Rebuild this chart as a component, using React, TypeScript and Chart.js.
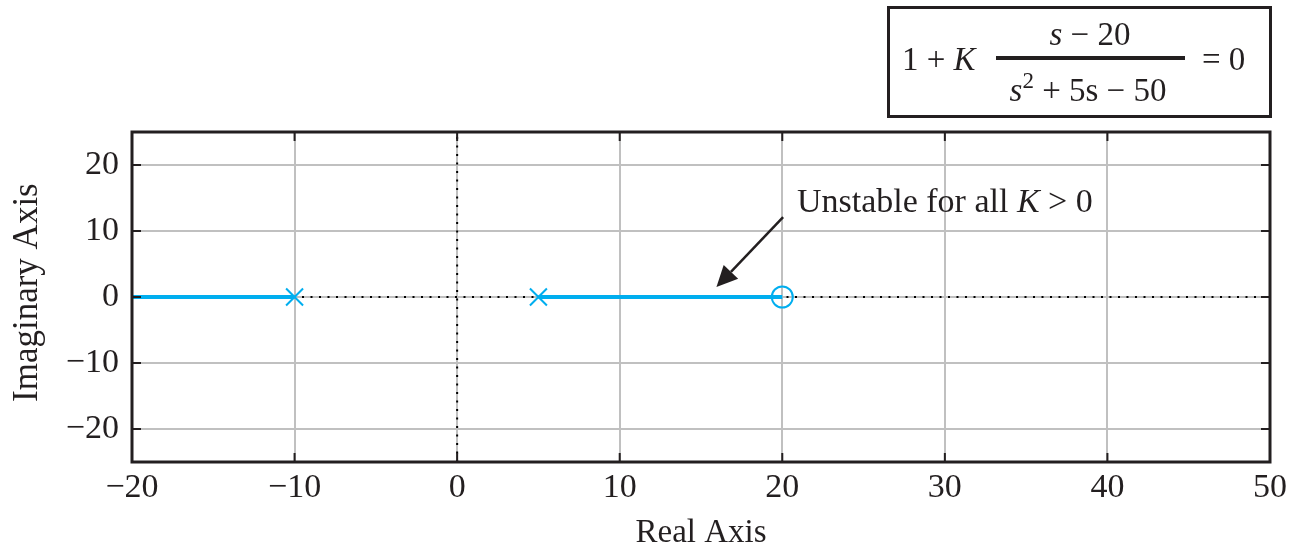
import React, { useEffect, useRef } from 'react';
import { Chart, registerables } from 'chart.js';

Chart.register(...registerables);

// ---- data ----
const xTicks = [-20, -10, 0, 10, 20, 30, 40, 50];
const yTicks = [-20, -10, 0, 10, 20];
const xRange = [-20, 50];
const yRange = [-25, 25];

const locusLeftX = [-20, -10];
const locusLeftY = [0, 0];
const locusRightX = [5, 20];
const locusRightY = [0, 0];
const polesX = [-10, 5];
const polesY = [0, 0];
const zerosX = [20];
const zerosY = [0];
const realAxisX = [-20, 50];
const realAxisY = [0, 0];
const imagAxisX = [0, 0];
const imagAxisY = [-25, 25];

const xTitle = 'Real Axis';
const yTitle = ' Imaginary Axis';
const annotationRuns = [
  { t: 'Unstable for all ', i: false },
  { t: 'K', i: true },
  { t: ' > 0', i: false },
];
const annotationAt = [20.9, 12.9];
const arrowFrom = [20.05, 12.1];
const arrowTo = [15.95, 1.5];

// ---- style ----
const INK = '#231f20';
const GRID = '#c0c0c0';
const BLUE = '#00aeef';
const SERIF = '"Liberation Serif", "Times New Roman", serif';

const pts = (xs: number[], ys: number[]) => xs.map((x, k) => ({ x, y: ys[k] }));

const fmt = (v: number) => (v < 0 ? '\u2212' + Math.abs(v) : String(v));

function drawRuns(ctx: CanvasRenderingContext2D, runs: { t: string; i: boolean; size?: number; dy?: number }[], x: number, y: number, size: number, align: 'left' | 'center') {
  const widths = runs.map((r) => {
    ctx.font = `${r.i ? 'italic ' : ''}${r.size || size}px ${SERIF}`;
    return ctx.measureText(r.t).width;
  });
  const total = widths.reduce((a, b) => a + b, 0);
  let cx = align === 'center' ? x - total / 2 : x;
  ctx.textAlign = 'left';
  ctx.textBaseline = 'alphabetic';
  runs.forEach((r, k) => {
    ctx.font = `${r.i ? 'italic ' : ''}${r.size || size}px ${SERIF}`;
    ctx.fillText(r.t, cx, y - (r.dy || 0));
    cx += widths[k];
  });
}

const framePlugin = {
  id: 'frame',
  afterDraw(chart: any) {
    const { ctx, chartArea: a, scales } = chart;
    const xs = scales.x;
    const ys = scales.y;
    ctx.save();
    ctx.strokeStyle = INK;
    ctx.fillStyle = INK;
    // inner tick marks
    const TL = 9;
    ctx.lineWidth = 2;
    ctx.beginPath();
    for (const v of xTicks) {
      const p = xs.getPixelForValue(v);
      ctx.moveTo(p, a.top);
      ctx.lineTo(p, a.top + TL);
      ctx.moveTo(p, a.bottom);
      ctx.lineTo(p, a.bottom - TL);
    }
    for (const v of yTicks) {
      const p = ys.getPixelForValue(v);
      ctx.moveTo(a.left, p);
      ctx.lineTo(a.left + TL, p);
      ctx.moveTo(a.right, p);
      ctx.lineTo(a.right - TL, p);
    }
    ctx.stroke();
    // frame
    ctx.lineWidth = 3;
    ctx.strokeRect(a.left, a.top, a.right - a.left, a.bottom - a.top);

    // arrow
    const x0 = xs.getPixelForValue(arrowFrom[0]);
    const y0 = ys.getPixelForValue(arrowFrom[1]);
    const x1 = xs.getPixelForValue(arrowTo[0]);
    const y1 = ys.getPixelForValue(arrowTo[1]);
    const ang = Math.atan2(y1 - y0, x1 - x0);
    const HL = 21;
    const HW = 10;
    const bx = x1 - HL * Math.cos(ang);
    const by = y1 - HL * Math.sin(ang);
    ctx.lineWidth = 2.5;
    ctx.beginPath();
    ctx.moveTo(x0, y0);
    ctx.lineTo(bx, by);
    ctx.stroke();
    ctx.beginPath();
    ctx.moveTo(x1, y1);
    ctx.lineTo(bx + HW * Math.sin(ang), by - HW * Math.cos(ang));
    ctx.lineTo(bx - HW * Math.sin(ang), by + HW * Math.cos(ang));
    ctx.closePath();
    ctx.fill();

    // annotation text
    drawRuns(ctx, annotationRuns, xs.getPixelForValue(annotationAt[0]), ys.getPixelForValue(annotationAt[1]), 34, 'left');

    // equation box
    ctx.lineWidth = 3;
    ctx.strokeRect(888.5, 7.5, 382, 109);
    drawRuns(ctx, [{ t: '1 + ', i: false }, { t: 'K', i: true }], 902, 70, 33, 'left');
    drawRuns(ctx, [{ t: 's', i: true }, { t: ' \u2212 20', i: false }], 1090, 45, 33, 'center');
    ctx.fillRect(996, 56, 189, 4);
    drawRuns(
      ctx,
      [
        { t: 's', i: true },
        { t: '2', i: false, size: 23, dy: 13 },
        { t: ' + 5s \u2212 50', i: false },
      ],
      1088,
      101,
      33,
      'center'
    );
    drawRuns(ctx, [{ t: '= 0', i: false }], 1202, 70, 33, 'left');
    ctx.restore();
  },
};

export default function App() {
  const ref = useRef<HTMLCanvasElement | null>(null);

  useEffect(() => {
    document.body.style.margin = '0';
    const canvas = ref.current;
    if (!canvas) return;
    const chart = new Chart(canvas, {
      type: 'scatter',
      data: {
        datasets: [
          {
            label: 'poles',
            data: pts(polesX, polesY),
            showLine: false,
            pointStyle: 'crossRot',
            pointRadius: 12,
            pointBorderWidth: 2,
            borderColor: BLUE,
            backgroundColor: BLUE,
            order: 0,
          },
          {
            label: 'zeros',
            data: pts(zerosX, zerosY),
            showLine: false,
            pointStyle: 'circle',
            pointRadius: 10.5,
            pointBorderWidth: 2,
            borderColor: BLUE,
            backgroundColor: 'rgba(0,0,0,0)',
            order: 0,
          },
          {
            label: 'locus1',
            data: pts(locusLeftX, locusLeftY),
            showLine: true,
            borderColor: BLUE,
            borderWidth: 4,
            pointRadius: 0,
            order: 1,
          },
          {
            label: 'locus2',
            data: pts(locusRightX, locusRightY),
            showLine: true,
            borderColor: BLUE,
            borderWidth: 4,
            pointRadius: 0,
            order: 1,
          },
          {
            label: 'realAxis',
            data: pts(realAxisX, realAxisY),
            showLine: true,
            borderColor: '#000',
            borderWidth: 2,
            borderDash: [2, 6.5],
            pointRadius: 0,
            order: 5,
          },
          {
            label: 'imagAxis',
            data: pts(imagAxisX, imagAxisY),
            showLine: true,
            borderColor: '#000',
            borderWidth: 2,
            borderDash: [2, 6.5],
            pointRadius: 0,
            order: 5,
          },
        ],
      },
      options: {
        responsive: false,
        animation: false,
        events: [],
        layout: { padding: { top: 132, right: 21, left: 0, bottom: 0 } },
        plugins: { legend: { display: false }, tooltip: { enabled: false } },
        scales: {
          x: {
            type: 'linear',
            min: xRange[0],
            max: xRange[1],
            afterBuildTicks: (s: any) => {
              s.ticks = xTicks.map((v) => ({ value: v }));
            },
            afterFit: (s: any) => {
              s.height = 88;
              s.paddingLeft = 0;
              s.paddingRight = 0;
            },
            grid: { color: GRID, lineWidth: 2, drawTicks: false },
            border: { display: false },
            ticks: {
              color: INK,
              padding: 6,
              maxRotation: 0,
              autoSkip: false,
              font: { family: SERIF, size: 34 },
              callback: (v: any) => fmt(Number(v)),
            },
            title: {
              display: true,
              text: xTitle,
              color: INK,
              font: { family: SERIF, size: 33, lineHeight: 1 },
              padding: { top: 0, bottom: 0 },
            },
          },
          y: {
            type: 'linear',
            min: yRange[0],
            max: yRange[1],
            afterBuildTicks: (s: any) => {
              s.ticks = yTicks.map((v) => ({ value: v }));
            },
            afterFit: (s: any) => {
              s.width = 132;
              s.paddingTop = 0;
              s.paddingBottom = 0;
            },
            grid: { color: GRID, lineWidth: 2, drawTicks: false },
            border: { display: false },
            ticks: {
              color: INK,
              padding: 13,
              autoSkip: false,
              font: { family: SERIF, size: 34 },
              callback: (v: any) => fmt(Number(v)),
            },
            title: {
              display: true,
              text: yTitle,
              color: INK,
              font: { family: SERIF, size: 35 },
              padding: { top: 7, bottom: 0 },
            },
          },
        },
      },
      plugins: [framePlugin],
    });
    return () => chart.destroy();
  }, []);

  return (
    <div style={{ position: 'absolute', left: 0, top: 0, width: 1291, height: 550 }}>
      <canvas ref={ref} width={1291} height={550} />
    </div>
  );
}
